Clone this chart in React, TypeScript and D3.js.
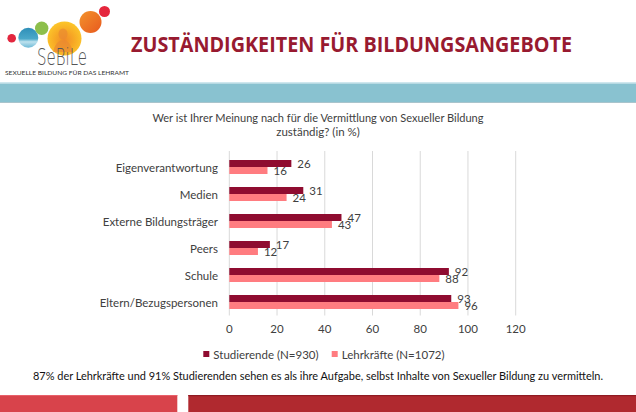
import React from 'react';
import * as d3 from 'd3';

const categories = [
  'Eigenverantwortung',
  'Medien',
  'Externe Bildungsträger',
  'Peers',
  'Schule',
  'Eltern/Bezugspersonen',
];
const seriesNames = ['Studierende (N=930)', 'Lehrkräfte (N=1072)'];
const studierende = [26, 31, 47, 17, 92, 93];
const lehrkraefte = [16, 24, 43, 12, 88, 96];
const xTicks = [0, 20, 40, 60, 80, 100, 120];

const W = 636;
const H = 412;
const colors = ['#8f0c30', '#ff7c80'];
const font = 'Lato, "Open Sans", sans-serif';
const textColor = '#404040';

const App: React.FC = () => {
  const x = d3.scaleLinear().domain([0, 120]).range([229.3, 515.7]);
  const y = d3.scaleBand<string>().domain(categories).range([153.5, 315.5]).padding(0);
  const inner = d3
    .scaleBand<string>()
    .domain(seriesNames)
    .range([0, y.bandwidth()])
    .paddingInner(0)
    .paddingOuter((y.bandwidth() - 14) / 14);
  const values = [studierende, lehrkraefte];

  return (
    <svg
      width={W}
      height={H}
      style={{ position: 'absolute', left: 0, top: 0, display: 'block', background: '#fff' }}
    >
      {/* logo */}
      <g>
        <defs>
          <linearGradient id="teal" x1="0" y1="0" x2="0" y2="1">
            <stop offset="0" stopColor="#2f8fb8" />
            <stop offset="0.55" stopColor="#4aa8c9" />
            <stop offset="0.7" stopColor="#bfe2ee" />
            <stop offset="1" stopColor="#6cb9d6" />
          </linearGradient>
          <radialGradient id="sun" cx="0.5" cy="0.55" r="0.55">
            <stop offset="0" stopColor="#f08a2a" />
            <stop offset="0.5" stopColor="#f7a825" />
            <stop offset="1" stopColor="#fcc62a" />
          </radialGradient>
          <linearGradient id="orng" x1="0" y1="0" x2="1" y2="1">
            <stop offset="0" stopColor="#f3932c" />
            <stop offset="1" stopColor="#e8591e" />
          </linearGradient>
        </defs>
        <circle cx={11.7} cy={38.3} r={4.3} fill="#e3263e" />
        <circle cx={28.3} cy={37.8} r={10} fill="url(#teal)" />
        <circle cx={41.7} cy={28.3} r={6.7} fill="#8dbf4c" />
        <circle cx={64.5} cy={38.5} r={17} fill="url(#sun)" />
        <ellipse cx={63} cy={34} rx={4.5} ry={5.5} fill="#ea8a30" opacity={0.7} />
        <path d="M53,52 Q56,40 63,40 Q70,40 73,52 Z" fill="#ea8a30" opacity={0.7} />
        <circle cx={90.5} cy={22} r={11} fill="url(#orng)" />
        <circle cx={104.5} cy={11.5} r={5.5} fill="#e5263c" />
        <text
          x={37}
          y={65}
          fontFamily='"DejaVu Sans", sans-serif'
          fontWeight={300}
          fontSize={23}
          fill="#555"
          textLength={50}
          lengthAdjust="spacingAndGlyphs"
        >
          SeBiLe
        </text>
        <text
          x={5}
          y={75}
          fontFamily={font}
          fontSize={6}
          fill="#333"
          textLength={124}
          lengthAdjust="spacingAndGlyphs"
        >
          SEXUELLE BILDUNG FÜR DAS LEHRAMT
        </text>
      </g>

      {/* title */}
      <text
        x={131}
        y={51.7}
        fontFamily='"Open Sans", sans-serif'
        fontWeight={700}
        fontSize={21}
        fill="#981a30"
        textLength={441}
        lengthAdjust="spacingAndGlyphs"
      >
        ZUSTÄNDIGKEITEN FÜR BILDUNGSANGEBOTE
      </text>

      {/* teal band */}
      <rect x={0} y={82} width={W} height={1.5} fill="#cfe7ee" />
      <rect x={0} y={83.5} width={W} height={18.5} fill="#89c2d0" />
      <rect x={0} y={102} width={W} height={1} fill="#a9c4cc" />

      {/* chart title */}
      <text x={318} y={122} textAnchor="middle" fontFamily={font} fontSize={11.5} fill={textColor}>
        <tspan x={318} textLength={331} lengthAdjust="spacingAndGlyphs">
          Wer ist Ihrer Meinung nach für die Vermittlung von Sexueller Bildung
        </tspan>
        <tspan x={318} dy={14}>
          zuständig? (in %)
        </tspan>
      </text>

      {/* gridlines */}
      {xTicks.map((t) => (
        <line key={t} x1={x(t)} x2={x(t)} y1={151} y2={315.5} stroke="#d9d9d9" strokeWidth={1} />
      ))}

      {/* bars */}
      {categories.map((c, i) => (
        <g key={c}>
          {seriesNames.map((s, j) => {
            const v = values[j][i];
            const by = (y(c) as number) + (inner(s) as number);
            return (
              <g key={s}>
                <rect
                  x={x(0)}
                  y={by}
                  width={x(v) - x(0)}
                  height={inner.bandwidth()}
                  fill={colors[j]}
                />
                <text
                  x={x(v) + 6}
                  y={by + inner.bandwidth() / 2}
                  dominantBaseline="central"
                  fontFamily={font}
                  fontSize={11.5}
                  fill={textColor}
                >
                  {v}
                </text>
              </g>
            );
          })}
          <text
            x={218}
            y={(y(c) as number) + y.bandwidth() / 2}
            textAnchor="end"
            dominantBaseline="central"
            fontFamily={font}
            fontSize={11.5}
            fill={textColor}
          >
            {c}
          </text>
        </g>
      ))}

      {/* x tick labels */}
      {xTicks.map((t) => (
        <text
          key={t}
          x={x(t)}
          y={328}
          textAnchor="middle"
          dominantBaseline="central"
          fontFamily={font}
          fontSize={11.5}
          fill={textColor}
        >
          {t}
        </text>
      ))}

      {/* legend */}
      {seriesNames.map((s, j) => {
        const lx = j === 0 ? 203.3 : 331.7;
        return (
          <g key={s}>
            <rect x={lx} y={351} width={6} height={6} fill={colors[j]} />
            <text
              x={lx + 10}
              y={354}
              dominantBaseline="central"
              fontFamily={font}
              fontSize={11.5}
              fill={textColor}
            >
              {s}
            </text>
          </g>
        );
      })}

      {/* footer note */}
      <text
        x={318}
        y={375}
        textAnchor="middle"
        dominantBaseline="central"
        fontFamily={font}
        fontSize={11.5}
        fill="#111"
        textLength={570}
        lengthAdjust="spacingAndGlyphs"
      >
        87% der Lehrkräfte und 91% Studierenden sehen es als ihre Aufgabe, selbst Inhalte von Sexueller Bildung zu vermitteln.
      </text>

      {/* bottom bars */}
      <rect x={0} y={395} width={177.3} height={H - 395} fill="#d8434b" />
      <rect x={0} y={395} width={177.3} height={1} fill="#e8606a" />
      <rect x={188.3} y={395} width={W - 188.3} height={H - 395} fill="#b0292f" />
      <rect x={188.3} y={395} width={W - 188.3} height={1.2} fill="#8f1a22" />
    </svg>
  );
};

export default App;
